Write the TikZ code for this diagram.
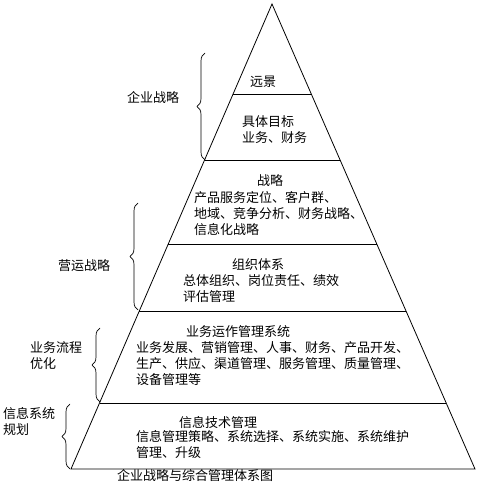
\documentclass[tikz,border=0pt]{standalone}
\usepackage{fontspec}
\newfontfamily\cjk{Noto Sans CJK SC}
\usetikzlibrary{calc,decorations.pathreplacing}

\tikzset{
  txt/.style={font=\cjk\fontsize{13}{16}\selectfont, inner sep=0pt, align=left},
  lay/.style={line width=0.8pt},
  brc/.style={decorate, decoration={brace, amplitude=8pt}, line width=0.7pt},
}

\begin{document}
\begin{tikzpicture}[x=1pt,y=-1pt]
\useasboundingbox (0,0) rectangle (499,484);
% pyramid outline
\coordinate (apex) at (272,4);
\coordinate (bl) at (71,469);
\coordinate (br) at (475,469);
\draw[lay] (apex) -- (bl) -- (br) -- cycle;
% layer lines
\foreach \t in {0.1935,0.3355,0.516,0.660,0.858}
  \draw[lay] ($(apex)!\t!(bl)$) -- ($(apex)!\t!(br)$);

% layer texts
\node[txt] (vision) at (263,82) {远景};
\node[txt, anchor=north west] (goal) at (242,115) {具体目标\\业务、财务};
\node[txt] (strat) at (270,181) {战略};
\node[txt, anchor=north west] (stratbody) at (194,191) {产品服务定位、客户群、\\地域、竞争分析、财务战略、\\信息化战略};
\node[txt] (org) at (258,265) {组织体系};
\node[txt, anchor=north west] (orgbody) at (183,274) {总体组织、岗位责任、绩效\\评估管理};
\node[txt, anchor=west] (ops) at (186,332) {业务运作管理系统};
\node[txt, anchor=north west] (opsbody) at (136,341) {业务发展、营销管理、人事、财务、产品开发、\\生产、供应、渠道管理、服务管理、质量管理、\\设备管理等};
\node[txt] (itm) at (218,423) {信息技术管理};
\node[txt, anchor=north west] (itbody) at (136,430) {信息管理策略、系统选择、系统实施、系统维护\\管理、升级};
\node[txt, anchor=west] (caption) at (117,476) {企业战略与综合管理体系图};

% side labels
\node[txt, anchor=west] (corp) at (127,98) {企业战略};
\node[txt, anchor=west] (oper) at (58,266) {营运战略};
\node[txt, anchor=north west] (proc) at (30,341) {业务流程\\优化};
\node[txt, anchor=north west] (infosys) at (3,407) {信息系统\\规划};

% braces
\draw[brc] (205,160) -- (205,53);
\draw[brc] (138,310) -- (138,203);
\draw[brc] (100,402) -- (100,328);
\draw[brc] (70,469) -- (70,404);
\end{tikzpicture}
\end{document}
